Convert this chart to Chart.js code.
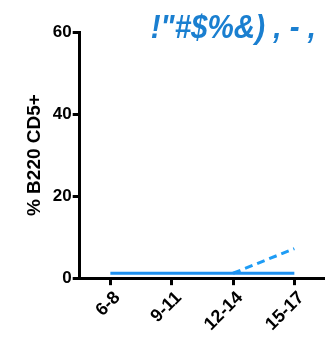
<!DOCTYPE html>
<html>
<head>
  <meta charset="UTF-8">
  <title>% B220 CD5+</title>
  <script src="https://cdn.jsdelivr.net/npm/chart.js"></script>
  <style>
    body { margin: 0; background: #fff; }
    #wrap { width: 325px; height: 340px; position: relative; }
  </style>
</head>
<body>
  <div id="wrap"><canvas id="chart"></canvas></div>
  <script>
    const categories = ['6-8', '9-11', '12-14', '15-17'];
    const solidValues = [1.2, 1.2, 1.2, 1.2];
    const dashedValues = [null, null, 1.2, 7.2];
    const yTicks = [0, 20, 40, 60];
    const titleText = '!"#$%&) , - ,';

    // draws the header text top right, squeezed a bit to look condensed
    const headerText = {
      id: 'headerText',
      afterDraw(chart) {
        const ctx = chart.ctx;
        ctx.save();
        ctx.fillStyle = '#1a7fd0';
        ctx.font = 'italic bold 34px "Liberation Sans", Arial, sans-serif';
        ctx.textAlign = 'right';
        ctx.textBaseline = 'alphabetic';
        ctx.translate(316, 38);
        ctx.scale(0.87, 1);
        ctx.fillText(titleText, 0, 0);
        ctx.restore();
      }
    };

    const font = { family: '"Liberation Sans", Arial, sans-serif', weight: 'bold', size: 17 };

    new Chart(document.getElementById('chart'), {
      type: 'line',
      data: {
        labels: categories,
        datasets: [
          { data: solidValues, borderColor: '#1e90f0', borderWidth: 3, pointRadius: 0, tension: 0 },
          { data: dashedValues, borderColor: '#1e9cf5', borderWidth: 3, borderDash: [8, 5], pointRadius: 0, tension: 0 }
        ]
      },
      options: {
        responsive: true,
        maintainAspectRatio: false,
        animation: false,
        layout: { padding: { top: 32, right: 0, left: 17, bottom: 3 } },
        plugins: { legend: { display: false }, tooltip: { enabled: false } },
        scales: {
          x: {
            offset: true,
            grid: { drawOnChartArea: false, drawTicks: true, tickLength: 7, tickWidth: 3, tickColor: '#000' },
            border: { width: 3, color: '#000' },
            ticks: { color: '#000', font: { family: font.family, weight: 'bold', size: 18 }, maxRotation: 45, minRotation: 45, padding: 2, labelOffset: 7 }
          },
          y: {
            min: 0, max: 60,
            afterBuildTicks: axis => { axis.ticks = yTicks.map(v => ({ value: v })); },
            grid: { drawOnChartArea: false, drawTicks: true, tickLength: 7, tickWidth: 3, tickColor: '#000' },
            border: { width: 3, color: '#000' },
            ticks: { color: '#000', font: font, padding: 1 },
            title: { display: true, text: '% B220 CD5+', color: '#000', font: { family: font.family, weight: 'bold', size: 19 }, padding: 6 }
          }
        }
      },
      plugins: [headerText]
    });
  </script>
</body>
</html>
